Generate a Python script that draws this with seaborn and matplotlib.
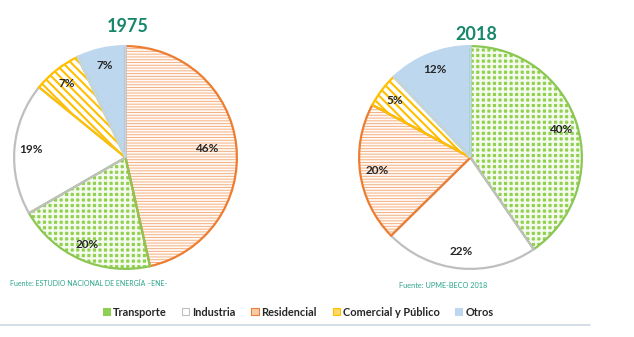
import matplotlib
matplotlib.use("Agg")
import matplotlib.pyplot as plt
import seaborn as sns
from matplotlib.patches import Patch
from matplotlib.lines import Line2D

sns.set_theme(style="white")
plt.rcParams['font.family'] = ['Lato', 'DejaVu Sans']

categories = ["Transporte", "Industria", "Residencial", "Comercial y Público", "Otros"]
values_1975 = [20, 19, 46, 7, 7]
values_2018 = [40, 22, 20, 5, 12]
order_1975 = [2, 0, 1, 3, 4]   # clockwise from top
order_2018 = [0, 1, 2, 3, 4]
title_1975 = "1975"
title_2018 = "2018"
source_1975 = "Fuente: ESTUDIO NACIONAL DE ENERGÍA –ENE-"
source_2018 = "Fuente: UPME-BECO 2018"

# styles: (face, hatch, hatch colour, edge colour, hatch lw)
styles = {
    "Transporte": ("#92d050", "+++", "#f4fbee", "#8cc653", 1.7),
    "Industria": ("white", "", "white", "#bfbfbf", 1.0),
    "Residencial": ("#fffaf6", "------", "#f4b183", "#ed7d31", 0.7),
    "Comercial y Público": ("white", "\\\\\\\\", "#ffc000", "#ffc000", 1.5),
    "Otros": ("#bdd7ee", "", "#bdd7ee", "#bdd7ee", 1.0),
}
green_title = "#17876b"
teal = "#2aa58a"

W, H = 634, 337
fig = plt.figure(figsize=(W / 100, H / 100), dpi=100)


def draw_pie(box, values, order, title, title_xy):
    x0, y0, w, h = box
    ax = fig.add_axes([x0 / W, 1 - (y0 + h) / H, w / W, h / H])
    cats = [categories[i] for i in order]
    vals = [values[i] for i in order]
    wedges, _ = ax.pie(vals, startangle=90, counterclock=False, radius=1,
                       wedgeprops=dict(linewidth=0))
    for wdg, c in zip(wedges, cats):
        face, hatch, hcol, ecol, hlw = styles[c]
        wdg.set_facecolor(face)
        wdg.set_hatch(hatch)
        wdg.set_edgecolor(hcol)
        try:
            wdg.set_hatch_linewidth(hlw)
        except Exception:
            pass
    wedges2, _, autotexts = ax.pie(vals, startangle=90, counterclock=False, radius=1,
                                   autopct="%d%%", pctdistance=0.85,
                                   wedgeprops=dict(facecolor="none", linewidth=1.6),
                                   textprops=dict(fontsize=8.5, fontweight="bold", color="#262626"))
    for wdg, c, v, t in zip(wedges2, cats, vals, autotexts):
        wdg.set_edgecolor(styles[c][3])
        t.set_text(f"{v}%")
        if v > 45:
            x, y = t.get_position()
            t.set_position((x * 0.73 / 0.85, y * 0.73 / 0.85))
    ax.set_xlim(-1.01, 1.01)
    ax.set_ylim(-1.01, 1.01)
    ax.set_aspect("equal")
    ax.axis("off")
    fig.text(title_xy[0] / W, 1 - title_xy[1] / H, title, ha="center", va="center",
             fontsize=13, fontweight="bold", color=green_title)
    return ax


draw_pie((13, 45, 225, 225), values_1975, order_1975, title_1975, (128, 26))
draw_pie((358, 45, 225, 225), values_2018, order_2018, title_2018, (476, 34))

fig.text(10 / W, 1 - 284 / H, source_1975, fontsize=5.0, color=teal, va="center", ha="left")
fig.text(399 / W, 1 - 285 / H, source_2018, fontsize=5.3, color=teal, va="center", ha="left")

legend_faces = {
    "Transporte": ("#8fcf55", "#8fcf55"),
    "Industria": ("white", "#bfbfbf"),
    "Residencial": ("#f8cbad", "#ed7d31"),
    "Comercial y Público": ("#ffd966", "#ffc000"),
    "Otros": ("#bdd7ee", "#bdd7ee"),
}
handles = [Patch(facecolor=legend_faces[c][0], edgecolor=legend_faces[c][1], linewidth=0.8)
           for c in categories]
leg = fig.legend(handles, categories, loc="center", bbox_to_anchor=(298 / W, 1 - 312 / H),
                 ncol=5, frameon=False, handlelength=0.65, handleheight=0.65,
                 handletextpad=0.25, columnspacing=1.45, prop=dict(weight="bold", size=7.9))
for t in leg.get_texts():
    t.set_color("#262626")

fig.add_artist(Line2D([0, 590 / W], [1 - 325 / H, 1 - 325 / H], color="#cdd8df", linewidth=1.2))

fig.savefig("out.png", dpi=100, facecolor="white")
